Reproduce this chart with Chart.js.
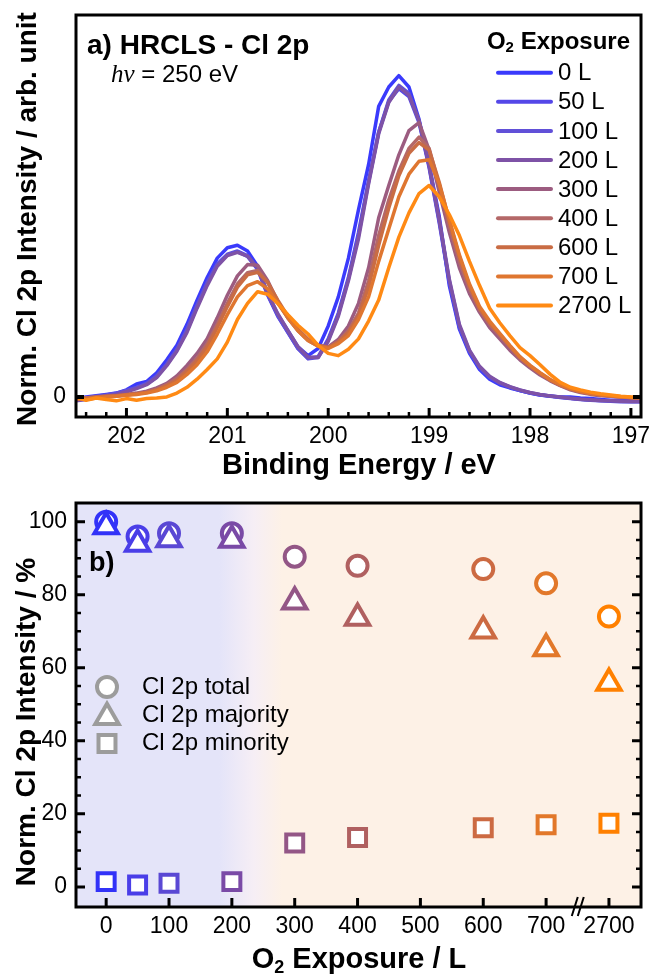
<!DOCTYPE html>
<html><head><meta charset="utf-8">
<script src="https://cdn.jsdelivr.net/npm/chart.js@4.4.1/dist/chart.umd.min.js"></script>
<style>
html,body{margin:0;padding:0;background:#fff}
body{width:650px;height:975px;overflow:hidden;position:relative}
#c1{position:absolute;left:0;top:0}
#c2{position:absolute;left:0;top:490px}
</style></head><body>
<canvas id="c1" width="650" height="490"></canvas>
<canvas id="c2" width="650" height="485"></canvas>
<script>
// ---------- DATA: panel a (HRCLS Cl 2p spectra) ----------
const energies = [202.5,202.4,202.3,202.2,202.1,202.0,201.9,201.8,201.7,201.6,201.5,201.4,201.3,201.2,201.1,201.0,200.9,200.8,200.7,200.6,200.5,200.4,200.3,200.2,200.1,200.0,199.9,199.8,199.7,199.6,199.5,199.4,199.3,199.2,199.1,199.0,198.9,198.8,198.7,198.6,198.5,198.4,198.3,198.2,198.1,198.0,197.9,197.8,197.7,197.6,197.5,197.4,197.3,197.2,197.1,197.0,196.9];
const exposureLabels = ['0 L','50 L','100 L','200 L','300 L','400 L','600 L','700 L','2700 L'];
const spec0L   = [-0.005,0.0,0.004,0.008,0.012,0.022,0.040,0.048,0.075,0.115,0.160,0.225,0.300,0.370,0.430,0.462,0.470,0.452,0.405,0.318,0.255,0.205,0.155,0.128,0.150,0.220,0.310,0.430,0.580,0.720,0.900,0.960,0.995,0.960,0.860,0.720,0.560,0.345,0.210,0.135,0.085,0.055,0.038,0.028,0.020,0.012,0.006,0.003,0.000,0.000,-0.003,-0.005,-0.008,-0.010,-0.010,-0.012,-0.012];
const spec50L  = [-0.010,-0.006,0.0,0.004,0.010,0.018,0.028,0.040,0.062,0.100,0.145,0.205,0.280,0.350,0.410,0.440,0.450,0.435,0.395,0.315,0.250,0.200,0.150,0.120,0.125,0.180,0.260,0.370,0.510,0.670,0.820,0.915,0.955,0.930,0.850,0.710,0.540,0.355,0.215,0.140,0.090,0.060,0.042,0.030,0.020,0.012,0.006,0.002,-0.002,-0.005,-0.008,-0.010,-0.012,-0.013,-0.015,-0.015,-0.015];
const spec100L = [-0.008,-0.004,0.002,0.006,0.012,0.020,0.030,0.042,0.065,0.102,0.148,0.210,0.285,0.355,0.412,0.442,0.452,0.438,0.398,0.318,0.252,0.200,0.150,0.118,0.122,0.176,0.255,0.365,0.500,0.665,0.820,0.920,0.965,0.940,0.855,0.715,0.545,0.360,0.220,0.142,0.092,0.062,0.044,0.031,0.021,0.013,0.007,0.003,-0.001,-0.004,-0.007,-0.009,-0.011,-0.012,-0.013,-0.014,-0.014];
const spec200L = [-0.012,-0.008,-0.002,0.003,0.008,0.016,0.026,0.038,0.060,0.097,0.142,0.200,0.275,0.345,0.405,0.438,0.448,0.436,0.400,0.322,0.258,0.206,0.156,0.124,0.122,0.172,0.250,0.360,0.490,0.660,0.815,0.912,0.960,0.935,0.856,0.718,0.550,0.365,0.225,0.145,0.095,0.064,0.045,0.032,0.022,0.014,0.008,0.003,0.000,-0.004,-0.007,-0.009,-0.011,-0.012,-0.013,-0.014,-0.014];
const spec300L = [-0.005,-0.002,0.0,0.002,0.004,0.008,0.012,0.018,0.028,0.042,0.065,0.098,0.135,0.180,0.245,0.315,0.375,0.410,0.408,0.360,0.295,0.245,0.208,0.178,0.160,0.155,0.178,0.220,0.290,0.400,0.555,0.655,0.750,0.825,0.850,0.765,0.635,0.510,0.400,0.320,0.262,0.215,0.180,0.145,0.115,0.090,0.068,0.050,0.035,0.022,0.014,0.008,0.004,0.002,0.000,-0.003,-0.004];
const spec400L = [-0.008,-0.004,-0.002,0.0,0.003,0.006,0.010,0.015,0.024,0.038,0.058,0.085,0.120,0.165,0.225,0.290,0.350,0.385,0.392,0.355,0.295,0.245,0.205,0.175,0.158,0.152,0.172,0.205,0.260,0.360,0.500,0.610,0.700,0.770,0.805,0.770,0.655,0.530,0.420,0.335,0.270,0.225,0.190,0.155,0.120,0.095,0.072,0.052,0.036,0.024,0.016,0.010,0.006,0.003,0.000,-0.002,-0.003];
const spec600L = [-0.006,-0.003,0.0,0.002,0.004,0.007,0.010,0.014,0.022,0.035,0.052,0.080,0.112,0.155,0.215,0.280,0.340,0.378,0.386,0.355,0.300,0.250,0.210,0.178,0.160,0.153,0.170,0.200,0.250,0.340,0.470,0.585,0.685,0.755,0.788,0.765,0.665,0.545,0.435,0.345,0.275,0.230,0.195,0.158,0.123,0.097,0.074,0.053,0.037,0.025,0.017,0.011,0.007,0.003,0.001,-0.002,-0.003];
const spec700L = [-0.005,-0.008,-0.003,0.0,0.002,0.005,0.008,0.012,0.019,0.030,0.045,0.070,0.100,0.140,0.195,0.255,0.310,0.345,0.357,0.335,0.290,0.245,0.205,0.175,0.157,0.150,0.165,0.190,0.240,0.310,0.420,0.520,0.620,0.690,0.730,0.735,0.660,0.550,0.440,0.350,0.280,0.235,0.197,0.160,0.125,0.098,0.075,0.054,0.038,0.026,0.017,0.011,0.007,0.004,0.001,-0.001,-0.002];
const spec2700L= [0.0,-0.010,-0.003,-0.008,-0.012,-0.005,-0.010,-0.005,-0.003,0.0,0.012,0.030,0.055,0.085,0.118,0.170,0.240,0.290,0.326,0.318,0.290,0.255,0.222,0.195,0.160,0.135,0.128,0.148,0.180,0.235,0.300,0.400,0.495,0.570,0.630,0.655,0.620,0.565,0.500,0.420,0.345,0.275,0.230,0.190,0.153,0.128,0.100,0.070,0.045,0.030,0.022,0.015,0.010,0.006,0.002,0.0,0.0];
const spectra = [spec0L,spec50L,spec100L,spec200L,spec300L,spec400L,spec600L,spec700L,spec2700L];
const topXTicks = [202,201,200,199,198,197];
const topYTicks = [0];

// ---------- DATA: panel b (normalized intensities) ----------
const exposures   = [0,50,100,200,300,400,600,700,2700];
const clTotal     = [100.0,95.9,96.8,96.8,90.4,87.9,87.0,83.1,74.0];
const clMajority  = [98.7,93.9,95.1,95.0,78.1,73.6,70.1,65.3,55.8];
const clMinority  = [1.45,0.55,1.0,1.45,12.0,13.5,16.2,17.0,17.4];
const bottomXTickLabels = ['0','100','200','300','400','500','600','700','2700'];
const bottomXTickPos    = [0,100,200,300,400,500,600,700,800];
const bottomYTicks = [0,20,40,60,80,100];
const seriesNames = ['Cl 2p total','Cl 2p majority','Cl 2p minority'];

// ---------- styles ----------
const specColors  = ['#3a3afc','#5447e8','#6150d8','#7e52a6','#9c5c80','#b46868','#c96c44','#df7630','#ff8a14'];
const pointColors = ['#3232f8','#4a3ee8','#5a48d4','#7a4aa6','#935686','#b06060','#cc6a42','#e2782a','#ff8000'];
const SANS = "'Liberation Sans', Arial, Helvetica, sans-serif";
const SERIF = "'Liberation Serif', 'Times New Roman', serif";
const axisPos = e => (e > 750 ? 800 : e); // broken axis: 2700 L drawn in the 800 slot

function richText(ctx, segs, x, y, align){
  let w = 0;
  segs.forEach(s => { ctx.font = s.font; w += ctx.measureText(s.t).width; });
  let cx = align === 'center' ? x - w/2 : (align === 'right' ? x - w : x);
  ctx.textAlign = 'left';
  segs.forEach(s => { ctx.font = s.font; ctx.fillText(s.t, cx, y + (s.dy||0)); cx += ctx.measureText(s.t).width; });
}

// ---------- panel a plugin ----------
const decoTop = {
  id: 'decoTop',
  afterDraw(chart){
    const {ctx, chartArea:a, scales:{x, y}} = chart;
    ctx.save();
    ctx.strokeStyle = '#000'; ctx.fillStyle = '#000';
    const k0 = Math.ceil(x.min*5 - 1e-6), k1 = Math.floor(x.max*5 + 1e-6);
    for (let k = k0; k <= k1; k++){
      const v = k/5, px = x.getPixelForValue(v);
      const major = (k % 5 === 0);
      ctx.lineWidth = major ? 3 : 2.5;
      ctx.beginPath(); ctx.moveTo(px, a.bottom); ctx.lineTo(px, a.bottom - (major ? 9 : 5)); ctx.stroke();
    }
    topYTicks.forEach(v => {
      const py = y.getPixelForValue(v);
      ctx.lineWidth = 4;
      ctx.beginPath(); ctx.moveTo(a.left, py); ctx.lineTo(a.left + 8, py);
      ctx.moveTo(a.right, py); ctx.lineTo(a.right - 8, py); ctx.stroke();
    });
    ctx.lineWidth = 3;
    ctx.strokeRect(a.left, a.top, a.right - a.left, a.bottom - a.top);
    ctx.textBaseline = 'middle';
    richText(ctx, [{t:'a) HRCLS - Cl 2p', font:'bold 28px ' + SANS}], 87, 46, 'left');
    richText(ctx, [{t:'hν', font:'italic 25px ' + SERIF},{t:' = 250 eV', font:'24px ' + SANS}], 111, 75, 'left');
    richText(ctx, [{t:'O', font:'bold 24px ' + SANS},{t:'2', font:'bold 15px ' + SANS, dy:6},{t:' Exposure', font:'bold 24px ' + SANS}], 630, 42, 'right');
    chart.data.datasets.forEach((ds, i) => {
      const ly = 72.7 + i*29.1;
      ctx.strokeStyle = ds.borderColor; ctx.lineWidth = 4; ctx.lineCap = 'round';
      ctx.beginPath(); ctx.moveTo(498, ly); ctx.lineTo(551, ly); ctx.stroke();
      ctx.fillStyle = '#000';
      richText(ctx, [{t:ds.label, font:'24px ' + SANS}], 558, ly + 1, 'left');
    });
    ctx.lineCap = 'butt';
    richText(ctx, [{t:'Binding Energy / eV', font:'bold 29px ' + SANS}], 359, 466, 'center');
    ctx.translate(28, 219); ctx.rotate(-Math.PI/2);
    richText(ctx, [{t:'Norm. Cl 2p Intensity / arb. unit', font:'bold 28px ' + SANS}], 0, 0, 'center');
    ctx.restore();
  }
};

new Chart(document.getElementById('c1'), {
  type: 'line',
  data: {
    datasets: exposureLabels.map((lab, i) => ({
      label: lab,
      data: energies.map((e, j) => ({x: e, y: spectra[i][j]})),
      borderColor: specColors[i], borderWidth: 3.5, pointRadius: 0, tension: 0, fill: false,
      borderJoinStyle: 'round',
      order: exposureLabels.length - 1 - i
    }))
  },
  options: {
    responsive: false, animation: false, devicePixelRatio: 1, events: [],
    layout: {padding: {left: 0, top: 15, right: 9, bottom: 0}, autoPadding: false},
    plugins: {legend: {display: false}, tooltip: {enabled: false}},
    scales: {
      x: {
        type: 'linear', reverse: true, min: 196.9, max: 202.5,
        afterBuildTicks(s){ s.ticks = topXTicks.map(v => ({value: v})); },
        afterFit(s){ s.height = 73; s.paddingLeft = 0; s.paddingRight = 0; },
        grid: {display: false, drawTicks: false}, border: {display: false},
        ticks: {color: '#000', font: {family: SANS, size: 23}, padding: 6, maxRotation: 0, autoSkip: false}
      },
      y: {
        type: 'linear', min: -0.062, max: 1.183,
        afterBuildTicks(s){ s.ticks = topYTicks.map(v => ({value: v})); },
        afterFit(s){ s.width = 76; s.paddingTop = 0; s.paddingBottom = 0; },
        grid: {display: false, drawTicks: false}, border: {display: false},
        ticks: {color: '#000', font: {family: SANS, size: 23}, padding: 10, callback: v => String(v)}
      }
    }
  },
  plugins: [decoTop]
});

// ---------- panel b plugins ----------
const decoBottom = {
  id: 'decoBottom',
  beforeDatasetsDraw(chart){
    const {ctx, chartArea:a, scales:{x}} = chart;
    const g = ctx.createLinearGradient(x.getPixelForValue(180), 0, x.getPixelForValue(280), 0);
    g.addColorStop(0, '#e4e4f9');
    g.addColorStop(0.55, '#f6eef5');
    g.addColorStop(1, '#fdf1e6');
    ctx.save(); ctx.fillStyle = g;
    ctx.fillRect(a.left, a.top, a.right - a.left, a.bottom - a.top);
    ctx.restore();
  },
  afterDraw(chart){
    const {ctx, chartArea:a, scales:{x, y}} = chart;
    ctx.save();
    ctx.strokeStyle = '#000'; ctx.fillStyle = '#000';
    bottomXTickPos.forEach(v => {
      const px = x.getPixelForValue(v);
      ctx.lineWidth = 3;
      ctx.beginPath(); ctx.moveTo(px, a.bottom); ctx.lineTo(px, a.bottom - 9); ctx.stroke();
    });
    for (let v = 0; v <= 100; v += 5){
      const py = y.getPixelForValue(v);
      const major = v % 20 === 0, L = major ? 9 : 5;
      ctx.lineWidth = major ? 3 : 2.5;
      ctx.beginPath(); ctx.moveTo(a.left, py); ctx.lineTo(a.left + L, py);
      ctx.moveTo(a.right, py); ctx.lineTo(a.right - L, py); ctx.stroke();
    }
    ctx.lineWidth = 3;
    ctx.strokeRect(a.left, a.top, a.right - a.left, a.bottom - a.top);
    const bx = x.getPixelForValue(752);
    ctx.lineWidth = 2;
    ctx.beginPath();
    ctx.moveTo(bx - 7, a.bottom + 9); ctx.lineTo(bx - 1, a.bottom - 10);
    ctx.moveTo(bx - 1, a.bottom + 9); ctx.lineTo(bx + 5, a.bottom - 10);
    ctx.stroke();
    ctx.textBaseline = 'middle';
    richText(ctx, [{t:'b)', font:'bold 27px ' + SANS}], 89, 74, 'left');
    const styles = ['circle','triangle','rect'], radii = [10, 13.5, 12];
    seriesNames.forEach((nm, i) => {
      const ly = 197 + i*28.3;
      ctx.fillStyle = '#fff'; ctx.strokeStyle = '#9c9c9c'; ctx.lineWidth = 4;
      Chart.helpers.drawPoint(ctx, {pointStyle: styles[i], radius: radii[i], rotation: 0, borderWidth: 4}, 107, ly + (i === 1 ? 2 : 0));
      ctx.fillStyle = '#000';
      richText(ctx, [{t:nm, font:'24px ' + SANS}], 142, ly, 'left');
    });
    richText(ctx, [{t:'O', font:'bold 29px ' + SANS},{t:'2', font:'bold 18px ' + SANS, dy:8},{t:' Exposure / L', font:'bold 29px ' + SANS}], 359, 470, 'center');
    ctx.translate(27, 232); ctx.rotate(-Math.PI/2);
    richText(ctx, [{t:'Norm. Cl 2p Intensity / %', font:'bold 28px ' + SANS}], 0, 0, 'center');
    ctx.restore();
  }
};

const bSeries = [clTotal, clMajority, clMinority];
const bStyles = ['circle','triangle','rect'];
const bRadii  = [10, 13.5, 12];
const bOrder  = [2, 0, 1];
new Chart(document.getElementById('c2'), {
  type: 'scatter',
  data: {
    datasets: bSeries.map((vals, k) => ({
      label: seriesNames[k],
      data: exposures.map((e, i) => ({x: axisPos(e), y: vals[i]})),
      pointStyle: bStyles[k], pointRadius: bRadii[k], pointBorderWidth: 4,
      pointBackgroundColor: '#ffffff', pointBorderColor: pointColors,
      showLine: false, order: bOrder[k], clip: false
    }))
  },
  options: {
    responsive: false, animation: false, devicePixelRatio: 1, events: [],
    layout: {padding: {left: 0, top: 13, right: 9, bottom: 0}, autoPadding: false},
    plugins: {legend: {display: false}, tooltip: {enabled: false}},
    scales: {
      x: {
        type: 'linear', min: -48, max: 851,
        afterBuildTicks(s){ s.ticks = bottomXTickPos.map(v => ({value: v})); },
        afterFit(s){ s.height = 68; s.paddingLeft = 0; s.paddingRight = 0; },
        grid: {display: false, drawTicks: false}, border: {display: false},
        ticks: {color: '#000', font: {family: SANS, size: 23}, padding: 6, maxRotation: 0, autoSkip: false,
          callback: v => bottomXTickLabels[bottomXTickPos.indexOf(v)]}
      },
      y: {
        type: 'linear', min: -5.5, max: 105.1,
        afterBuildTicks(s){ s.ticks = bottomYTicks.map(v => ({value: v})); },
        afterFit(s){ s.width = 76; s.paddingTop = 0; s.paddingBottom = 0; },
        grid: {display: false, drawTicks: false}, border: {display: false},
        ticks: {color: '#000', font: {family: SANS, size: 23}, padding: 9, callback: v => String(v)}
      }
    }
  },
  plugins: [decoBottom]
});
</script>
</body></html>
